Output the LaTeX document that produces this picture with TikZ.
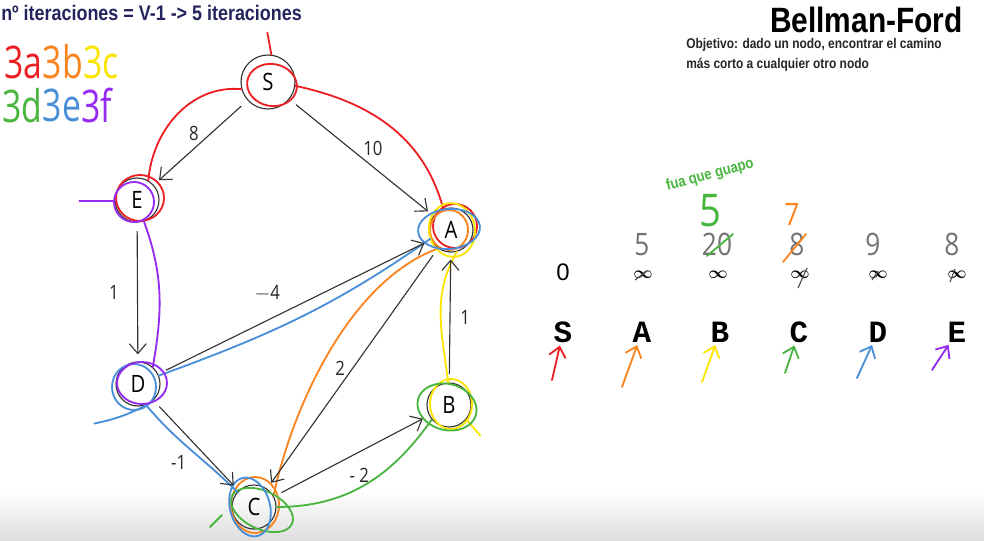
\documentclass[tikz,border=0pt]{standalone}
\usepackage{fontspec}
\setmainfont{Liberation Sans}
\newfontfamily\condfont[FakeStretch=0.85]{Liberation Sans}
\newfontfamily\handfont[FakeStretch=0.85]{Open Sans}
\newfontfamily\thinfont[FakeStretch=0.75]{Open Sans}
\newfontfamily\typefont{Liberation Mono}
\usetikzlibrary{arrows.meta,positioning}
\definecolor{hred}{RGB}{236,32,36}
\definecolor{horange}{RGB}{250,132,30}
\definecolor{hyellow}{RGB}{250,228,0}
\definecolor{hgreen}{RGB}{72,182,62}
\definecolor{hblue}{RGB}{72,142,216}
\definecolor{hpurple}{RGB}{150,42,240}
\definecolor{navy}{RGB}{36,36,92}

\begin{document}
\begin{tikzpicture}[x=0.025cm,y=0.025cm,
        hl/.style={line width=1.3pt, line cap=round, line join=round},
        hand/.style={inner sep=0, text=black!55, font=\handfont\fontsize{22}{22}\selectfont},
        weight/.style={inner sep=1pt, text=black!85, font=\handfont\fontsize{14}{14}\selectfont},
        >={Straight Barb[length=7pt,width=12pt]}]
                \useasboundingbox (0,0) rectangle (984,-540);
                \fill[white] (0,0) rectangle (984,-540);
                \shade[top color=white, bottom color=black!13] (0,-492) rectangle (984,-540);

                \node[anchor=base west, inner sep=0, text=navy, font=\condfont\bfseries\fontsize{15}{15}\selectfont] (iter) at (1,-20) {nº iteraciones = V-1 -> 5 iteraciones};
                \node[anchor=base east, inner sep=0, font=\condfont\bfseries\fontsize{25}{25}\selectfont] (title) at (963,-32) {Bellman-Ford};
                \node[anchor=base west, inner sep=0, text=black!85, font=\condfont\bfseries\fontsize{10}{10}\selectfont] (goal1) at (686,-48) {Objetivo: dado un nodo, encontrar el camino};
                \node[anchor=base west, inner sep=0, text=black!85, font=\condfont\bfseries\fontsize{10}{10}\selectfont] (goal2) at (686,-68) {más corto a cualquier otro nodo};

                \begin{scope}[every node/.style={inner sep=0, font=\thinfont\fontsize{32}{32}\selectfont}]
                        \node[anchor=base west, text=hred] (k3a) at (4,-78) {3a};
                        \node[text=horange, right=0pt of k3a] (k3b) {3b};
                        \node[text=hyellow, right=0pt of k3b] (k3c) {3c};
                        \node[anchor=base west, text=hgreen] (k3d) at (2,-122) {3d};
                        \node[text=hblue, right=0pt of k3d] (k3e) {3e};
                        \node[text=hpurple, right=0pt of k3e] (k3f) {3f};
                \end{scope}

                \begin{scope}[every node/.style={draw=black!80, thick, circle, minimum size=1.1cm, inner sep=1, font=\handfont\fontsize{17}{17}\selectfont}]
                        \node[minimum size=1.35cm] (S) at (268,-82) {S};
                        \node (E) at (137,-200) {E};
                        \node (A) at (451,-230) {A};
                        \node (D) at (138,-384) {D};
                        \node (B) at (449,-405) {B};
                        \node (C) at (254,-507) {C};
                \end{scope}

                \begin{scope}[every path/.style={hl}]
                        \draw[hred] (S.83) -- ++(-4,22);
                        \draw[hred] (S) ++(4,-3) ellipse [x radius=25, y radius=21, rotate=-10];
                        \draw[hred] (S.195) to[out=175, in=85] (E.60);
                        \draw[hred] (S.-8) to[out=-12, in=105] (A.110);
                        \draw[hred] (E) ++(3,2) ellipse [x radius=24, y radius=23];
                        \draw[hred] (A) ++(4,4) ellipse [x radius=22, y radius=22];

                        \draw[horange] (A) ++(-2,0) ellipse [x radius=19, y radius=20];
                        \draw[horange] (A.235) to[out=200, in=78, looseness=0.8] (C.30);
                        \draw[horange] (C) ++(1,2) ellipse [x radius=24, y radius=28];

                        \draw[hyellow] (A) ++(1,0) ellipse [x radius=23, y radius=27, rotate=10];
                        \draw[hyellow] (B.92) to[out=97, in=-120] (A.-75);
                        \draw[hyellow] (B) ++(2,1) ellipse [x radius=21, y radius=25];
                        \draw[hyellow] (B.-40) -- ++(14,-16);

                        \draw[hgreen] (B) ++(-2,-2) ellipse [x radius=30, y radius=23, rotate=-15];
                        \draw[hgreen] (C.0) to[out=0, in=235] (B.220);
                        \draw[hgreen] (C) ++(8,-3) ellipse [x radius=33, y radius=19, rotate=-25];
                        \draw[hgreen] (210,-527) -- (222,-515);

                        \draw[hblue] (A) ++(-2,1) ellipse [x radius=31, y radius=20, rotate=5];
                        \draw[hblue] (D.22) to[out=20, in=215] (A.203);
                        \draw[hblue] (D.-69) to[out=-50, in=135] (C.138);
                        \draw[hblue] (D) ++(-4,-3) ellipse [x radius=22, y radius=23];
                        \draw[hblue] (D.-60) to[bend left=8] ++(-55,-20);
                        \draw[hblue] (C) ++(-4,0) ellipse [x radius=20, y radius=30, rotate=15];

                        \draw[hpurple] (E.182) -- ++(-35,0);
                        \draw[hpurple] (E) ++(-3,-2) ellipse [x radius=20, y radius=20];
                        \draw[hpurple] (E.-72) to[out=-70, in=80] (D.49);
                        \draw[hpurple] (D) ++(4,1) ellipse [x radius=25, y radius=21];
                \end{scope}

                \begin{scope}[every node/.style={weight}, every path/.style={thick, draw=black!80, ->, shorten <=6pt, shorten >=5pt}]
                        \path (S) edge node[pos=0.5, above left] {8} (E);
                        \path (S) edge node[pos=0.5, above right] {10} (A);
                        \path (E) edge node[left=12pt] {1} (D);
                        \path (D) edge node[pos=0.4, above=12pt] {$-$4} (A);
                        \path (D) edge node[pos=0.5, below left=8pt] {-1} (C);
                        \path (A) edge node[pos=0.5, left=4pt] {2} (C);
                        \path (C) edge node[pos=0.55, below=10pt] {- 2} (B);
                        \path (B) edge node[right=6pt] {1} (A);
                \end{scope}

                \node[rotate=15, text=hgreen, font=\condfont\bfseries\fontsize{11}{11}\selectfont] (wow) at (710,-175) {fua que guapo};

                \begin{scope}[every node/.style={inner sep=0, font=\typefont\bfseries\fontsize{22}{22}\selectfont}]
                        \node (lS) at (563,-332) {S};
                        \node (lA) at (642,-332) {A};
                        \node (lB) at (720,-332) {B};
                        \node (lC) at (799,-332) {C};
                        \node (lD) at (878,-332) {D};
                        \node (lE) at (957,-332) {E};
                \end{scope}

                \node[inner sep=0, font=\fontsize{17}{17}\selectfont] (dS) at (563,-272) {0};
                \begin{scope}[every node/.style={inner sep=0, font=\boldmath\fontsize{12}{12}\selectfont}]
                        \node (iA) at (643,-275) {$\infty$};
                        \node (iB) at (718,-275) {$\infty$};
                        \node (iC) at (800,-275) {$\infty$};
                        \node (iD) at (878,-275) {$\infty$};
                        \node (iE) at (957,-275) {$\infty$};
                \end{scope}
                \draw[thick, black!70] (635,-280) -- (647,-271);
                \draw[thick, black!70] (798,-288) -- (807,-268);
                \draw[thick, black!70] (872,-280) -- (878,-271);
                \draw[thick, black!70] (950,-282) -- (955,-269);

                \node[hand] (vA) at (642,-245) {5};
                \node[hand] (vB) at (717,-244) {20};
                \node[hand] (vC) at (797,-244) {8};
                \node[hand] (vD) at (873,-244) {9};
                \node[hand] (vE) at (952,-244) {8};
                \draw[hl, hgreen] (707,-256) -- (733,-234);
                \draw[hl, horange] (783,-262) -- (806,-234);
                \node[hand, text=hgreen, font=\handfont\fontsize{32}{32}\selectfont] (nB) at (710,-211) {5};
                \node[hand, text=horange, font=\handfont\fontsize{22}{22}\selectfont] (nC) at (792,-214) {7};

                \coordinate (tS) at (552,-380);
                \coordinate (tA) at (622,-387);
                \coordinate (tB) at (702,-382);
                \coordinate (tC) at (785,-373);
                \coordinate (tD) at (857,-378);
                \coordinate (tE) at (932,-370);
                \begin{scope}[every path/.style={hl, ->, shorten >=2pt}]
                        \draw[hred] (tS) -- (lS);
                        \draw[horange] (tA) -- (lA);
                        \draw[hyellow] (tB) -- (lB);
                        \draw[hgreen] (tC) -- (lC);
                        \draw[hblue] (tD) -- (lD);
                        \draw[hpurple] (tE) -- (lE);
                \end{scope}
        \end{tikzpicture}
\end{document}
